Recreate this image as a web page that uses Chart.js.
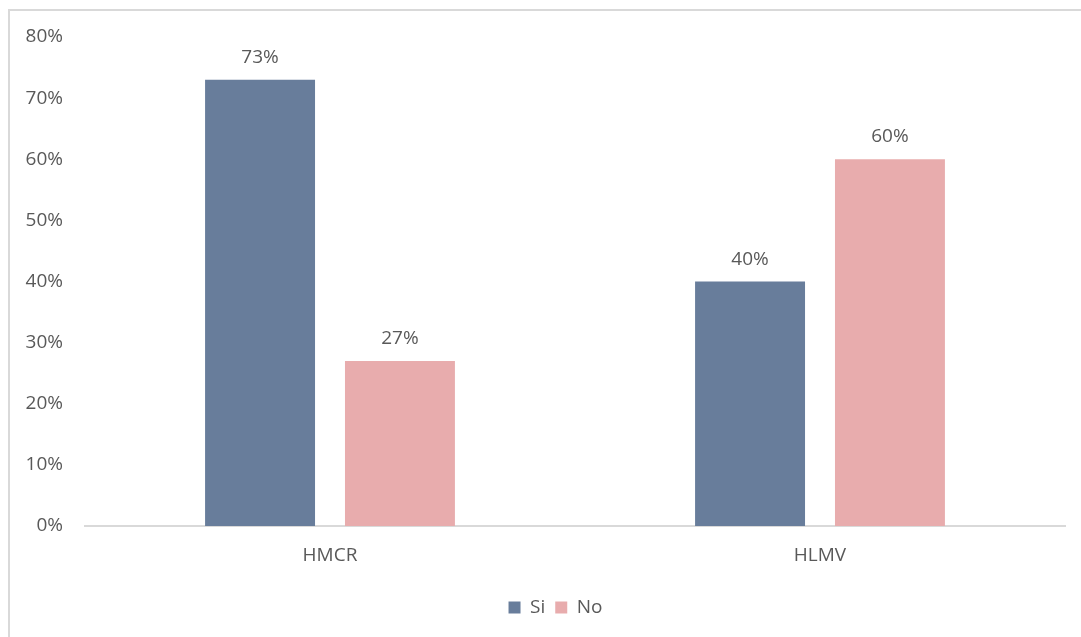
<!DOCTYPE html>
<html>
<head>
<meta charset="utf-8">
<script src="https://cdn.jsdelivr.net/npm/chart.js@4/dist/chart.umd.min.js"></script>
<style>
  html, body { margin: 0; padding: 0; background: #ffffff; overflow: hidden; }
  #wrap { position: relative; width: 1081px; height: 637px; }
  #frame {
    position: absolute; left: 8px; top: 9px; width: 1100px; height: 660px;
    border-left: 2px solid #d9d9d9; border-top: 2px solid #d9d9d9;
  }
  #c { position: absolute; left: 0; top: 0; }
</style>
</head>
<body>
<div id="wrap">
  <div id="frame"></div>
  <canvas id="c" width="1081" height="637"></canvas>
</div>
<script>
// Survey answers per hospital, as shares of respondents
const categories = ['HMCR', 'HLMV'];
const seriesNames = ['Si', 'No'];
const siValues = [0.73, 0.40];
const noValues = [0.27, 0.60];
const yTicks = [0, 0.1, 0.2, 0.3, 0.4, 0.5, 0.6, 0.7, 0.8];

const FONT = "'Open Sans', 'Noto Sans', sans-serif";
const TEXT = '#595959';

const pct = v => Math.round(v * 100) + '%';

// Writes each bar's percentage just above it
const valueLabels = {
  id: 'valueLabels',
  afterDatasetsDraw(chart) {
    const ctx = chart.ctx;
    ctx.save();
    ctx.font = '19px ' + FONT;
    ctx.fillStyle = TEXT;
    ctx.textAlign = 'center';
    ctx.textBaseline = 'alphabetic';
    chart.data.datasets.forEach((ds, i) => {
      chart.getDatasetMeta(i).data.forEach((bar, j) => {
        ctx.fillText(pct(ds.data[j]), bar.x, bar.y - 17);
      });
    });
    ctx.restore();
  }
};

// Centres the legend under the whole framed panel rather than the plot box
const legendShift = {
  id: 'legendShift',
  afterLayout(chart) {
    if (chart.legend) {
      chart.legend.left += 23;
      chart.legend.right += 23;
    }
  }
};

new Chart(document.getElementById('c'), {
  type: 'bar',
  data: {
    labels: categories,
    datasets: [
      { label: seriesNames[0], data: siValues, backgroundColor: '#687d9b' },
      { label: seriesNames[1], data: noValues, backgroundColor: '#e8acad' }
    ]
  },
  options: {
    responsive: false,
    animation: false,
    devicePixelRatio: 1,
    layout: { padding: { top: 37, right: 16, bottom: 10, left: 0 } },
    datasets: { bar: { categoryPercentage: 0.571, barPercentage: 0.786 } },
    scales: {
      x: {
        grid: { display: false, drawTicks: false },
        border: { display: true, color: '#d9d9d9', width: 2 },
        ticks: { color: TEXT, font: { family: FONT, size: 19 }, padding: 18 },
        afterFit(scale) { scale.height = 62; }
      },
      y: {
        min: 0, max: 0.8,
        afterBuildTicks(scale) { scale.ticks = yTicks.map(v => ({ value: v })); },
        grid: { display: false, drawTicks: false },
        border: { display: false },
        ticks: {
          color: TEXT, font: { family: FONT, size: 19 }, padding: 22,
          callback: v => pct(v)
        },
        afterFit(scale) { scale.width = 85; }
      }
    },
    plugins: {
      legend: {
        position: 'bottom',
        labels: {
          color: TEXT, font: { family: FONT, size: 19 },
          boxWidth: 12, boxHeight: 12, padding: 10
        }
      },
      tooltip: { enabled: false }
    }
  },
  plugins: [valueLabels, legendShift]
});
</script>
</body>
</html>
